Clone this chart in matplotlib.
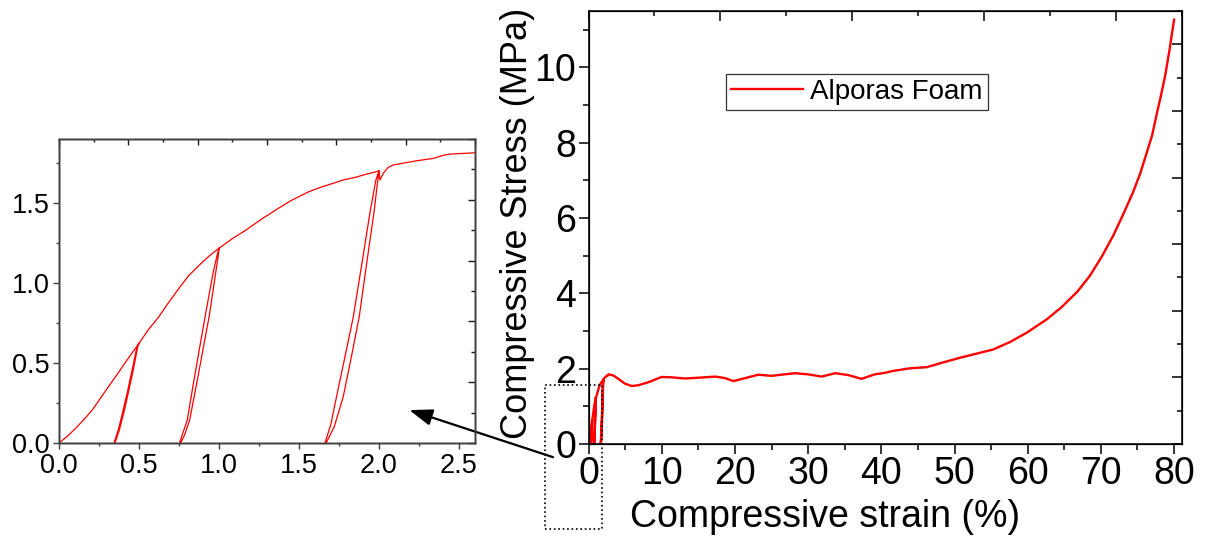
import matplotlib
matplotlib.use('Agg')
import matplotlib.pyplot as plt
from matplotlib.ticker import MultipleLocator
from matplotlib.patches import Rectangle

plt.rcParams['font.family'] = ['Liberation Sans', 'DejaVu Sans']

# %% 1. Data (strain in %, stress in MPa)
# ----------------------------------------------------------------------------

# Loading envelope up to the third unloading point
env_strain = [0.0, 0.05, 0.104, 0.15, 0.208, 0.28, 0.354, 0.43, 0.5, 0.56,
              0.625, 0.69, 0.75, 0.81, 0.875, 0.94, 1.0, 1.08, 1.167, 1.26,
              1.354, 1.45, 1.5625, 1.64, 1.714, 1.78, 1.85, 1.92, 2.0]
env_stress = [0.0, 0.04, 0.092, 0.14, 0.206, 0.31, 0.415, 0.525, 0.623, 0.71,
              0.79, 0.885, 0.967, 1.045, 1.11, 1.17, 1.217, 1.275, 1.33, 1.395,
              1.456, 1.515, 1.571, 1.60, 1.623, 1.645, 1.66, 1.68, 1.70]

# Unload / reload loops
loop1_strain = [0.5, 0.492, 0.465, 0.437, 0.408, 0.377, 0.35, 0.344, 0.37,
                0.40, 0.43, 0.458, 0.487, 0.5]
loop1_stress = [0.623, 0.6, 0.46, 0.33, 0.2, 0.08, 0.0, 0.0, 0.08, 0.2, 0.33,
                0.46, 0.6, 0.623]
loop2_strain = [1.0, 0.997, 0.979, 0.942, 0.903, 0.865, 0.817, 0.785, 0.76,
                0.754, 0.77, 0.802, 0.844, 0.88, 0.917, 0.9625, 0.99, 1.0]
loop2_stress = [1.217, 1.18, 1.06, 0.81, 0.6, 0.394, 0.144, 0.05, 0.0, 0.0,
                0.05, 0.144, 0.394, 0.6, 0.81, 1.06, 1.18, 1.217]
loop3_strain = [2.0, 1.99, 1.969, 1.92, 1.877, 1.83, 1.777, 1.72, 1.67, 1.663,
                1.70, 1.735, 1.79, 1.84, 1.89, 1.944, 1.98, 2.0]
loop3_stress = [1.70, 1.62, 1.44, 1.1, 0.79, 0.55, 0.29, 0.1, 0.0, 0.0, 0.12,
                0.29, 0.55, 0.79, 1.1, 1.44, 1.64, 1.70]

# After the last loop (inset range)
post_strain = [2.0, 2.006, 2.027, 2.058, 2.09, 2.235, 2.34, 2.402, 2.444, 2.6]
post_stress = [1.70, 1.644, 1.686, 1.723, 1.738, 1.764, 1.779, 1.798, 1.806,
               1.814]

# Plateau and densification (main plot only)
main_strain = [2.6, 2.71, 3.39, 4.07, 4.99, 5.9, 6.81, 8.17, 9.08, 10.0, 11.36,
               13.18, 15.0, 17.3, 18.65, 19.8, 21.4, 23.2, 25.0, 26.8, 28.2,
               30.0, 31.85, 33.7, 35.5, 37.3, 39.1, 40.5, 41.6, 43.9, 46.2,
               48.5, 50.75, 53.0, 55.3, 57.6, 59.9, 62.6, 64.6, 66.8, 68.5,
               70.1, 71.7, 73.0, 74.4, 75.4, 76.3, 77.0, 77.6, 78.2, 78.8,
               79.4, 80.0]
main_stress = [1.814, 1.85, 1.82, 1.73, 1.60, 1.54, 1.56, 1.64, 1.71, 1.78,
               1.77, 1.74, 1.76, 1.79, 1.75, 1.67, 1.75, 1.84, 1.81, 1.85,
               1.88, 1.85, 1.79, 1.88, 1.83, 1.73, 1.85, 1.89, 1.94, 2.01,
               2.04, 2.17, 2.29, 2.40, 2.51, 2.71, 2.96, 3.31, 3.63, 4.05,
               4.47, 4.97, 5.54, 6.08, 6.69, 7.2, 7.76, 8.2, 8.74, 9.25, 9.80,
               10.5, 11.27]

# %% 2. Figure and axes
# ----------------------------------------------------------------------------

fig = plt.figure(figsize=(12.06, 5.37), dpi=100)
ax_in = fig.add_axes([0.0489, 0.1750, 0.3449, 0.5661])
ax = fig.add_axes([0.4880, 0.1732, 0.4921, 0.8063])

red = '#ff0000'

# %%% 2.1 Main plot
curve_x = env_strain + post_strain + main_strain
curve_y = env_stress + post_stress + main_stress
ax.plot(curve_x, curve_y, color=red, lw=1.7, label='Alporas Foam')
for lx, ly in [(loop1_strain, loop1_stress), (loop2_strain, loop2_stress),
               (loop3_strain, loop3_stress)]:
    ax.plot(lx, ly, color=red, lw=1.7)

ax.set_xlim(0, 81.08)
ax.set_ylim(0, 11.5)
ax.xaxis.set_major_locator(MultipleLocator(10))
ax.xaxis.set_minor_locator(MultipleLocator(5))
ax.yaxis.set_major_locator(MultipleLocator(2))
ax.yaxis.set_minor_locator(MultipleLocator(1))
ax.tick_params(which='major', direction='out', length=7, width=1.1,
               labelsize=27, pad=2)
ax.tick_params(which='minor', direction='out', length=4, width=1.1)
for s in ax.spines.values():
    s.set_linewidth(1.1)

ax.set_xlabel('Compressive strain (%)', fontsize=27)
ax.xaxis.set_label_coords(0.398, -0.127)
ax.set_ylabel('Compressive Stress (MPa)', fontsize=26)
ax.yaxis.set_label_coords(-0.09, 0.51)

leg = ax.legend(loc='upper left', bbox_to_anchor=(0.2317, 0.8545),
                borderaxespad=0, fontsize=20, handlelength=2.6,
                handletextpad=0.25, borderpad=0.18, fancybox=False,
                framealpha=1)
leg.get_frame().set_edgecolor('0.2')
leg.get_frame().set_linewidth(0.9)

# Mirror axes (their scales differ from the labelled ones, as in the original)
ax_top = ax.twiny()
ax_top.set_xlim(0, 90)
ax_top.xaxis.set_major_locator(MultipleLocator(20))
ax_top.xaxis.set_minor_locator(MultipleLocator(10))
ax_top.tick_params(which='major', direction='in', length=7, width=1.1,
                   labeltop=False)
ax_top.tick_params(which='minor', direction='in', length=3.7, width=1.1)
ax_right = ax.twinx()
ax_right.set_ylim(0, 13)
ax_right.yaxis.set_major_locator(MultipleLocator(2))
ax_right.yaxis.set_minor_locator(MultipleLocator(1))
ax_right.tick_params(which='major', direction='in', length=7, width=1.1,
                     labelright=False)
ax_right.tick_params(which='minor', direction='in', length=3.7, width=1.1)

# %%% 2.2 Inset (zoom on the first 2.6 %)
ax_in.plot(env_strain, env_stress, color=red, lw=0.9)
ax_in.plot(post_strain, post_stress, color=red, lw=0.9)
for lx, ly in [(loop1_strain, loop1_stress), (loop2_strain, loop2_stress),
               (loop3_strain, loop3_stress)]:
    ax_in.plot(lx, ly, color=red, lw=0.9)

ax_in.set_xlim(0, 2.6)
ax_in.set_ylim(0, 1.9)
ax_in.xaxis.set_major_locator(MultipleLocator(0.5))
ax_in.xaxis.set_minor_locator(MultipleLocator(0.25))
ax_in.yaxis.set_major_locator(MultipleLocator(0.5))
ax_in.yaxis.set_minor_locator(MultipleLocator(0.25))
ax_in.xaxis.set_major_formatter('{x:.1f}')
ax_in.yaxis.set_major_formatter('{x:.1f}')
ax_in.tick_params(which='major', direction='out', length=4, width=1.0,
                  labelsize=19.5, pad=3, color='0.25')
ax_in.tick_params(which='minor', direction='out', length=2.3, width=1.0,
                  color='0.25')
for s in ax_in.spines.values():
    s.set_linewidth(1.0)
    s.set_color('0.25')

in_top = ax_in.twiny()
in_top.set_xlim(0, 3)
in_top.xaxis.set_major_locator(MultipleLocator(0.5))
in_top.xaxis.set_minor_locator(MultipleLocator(0.25))
in_top.tick_params(which='major', direction='in', length=4, width=1.0,
                   labeltop=False, color='0.1')
in_top.tick_params(which='minor', direction='in', length=2.4, width=1.0,
                   color='0.1')
in_right = ax_in.twinx()
in_right.set_ylim(0, 2.5)
in_right.yaxis.set_major_locator(MultipleLocator(0.5))
in_right.yaxis.set_minor_locator(MultipleLocator(0.25))
in_right.tick_params(which='major', direction='in', length=5, width=1.0,
                     labelright=False, color='0.1')
in_right.tick_params(which='minor', direction='in', length=3, width=1.0,
                     color='0.1')
for a in (in_top, in_right):
    for s in a.spines.values():
        s.set_linewidth(1.0)
        s.set_color('0.25')

# %%% 2.3 Zoom box and arrow
ax.add_patch(Rectangle((-5.94, -2.26), 7.78, 3.83, fill=False, ls=':',
                       lw=1.2, ec='black', clip_on=False, zorder=5))
ax.annotate('', xy=(2.19, 0.206), xycoords=ax_in.transData,
            xytext=(-4.85, -0.35), textcoords='data',
            arrowprops=dict(arrowstyle='-|>,head_length=0.7,head_width=0.25',
                            mutation_scale=20, color='black', lw=1.6,
                            shrinkA=0, shrinkB=0),
            annotation_clip=False)

fig.savefig('out.png', dpi=100)
